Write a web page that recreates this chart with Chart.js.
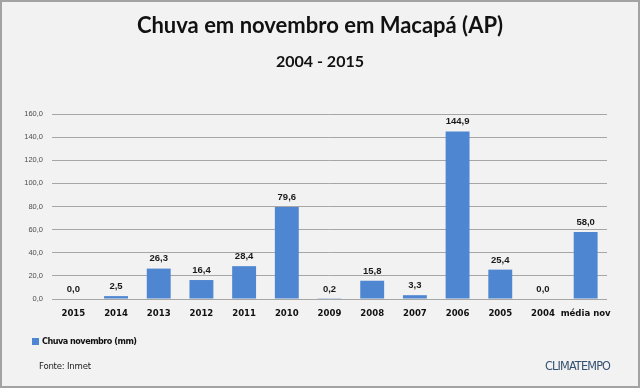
<!DOCTYPE html>
<html>
<head>
<meta charset="utf-8">
<script src="https://cdn.jsdelivr.net/npm/chart.js@4"></script>
<style>
  html, body { margin: 0; padding: 0; background: #f2f2f2; }
  #wrap { position: relative; width: 640px; height: 388px; overflow: hidden; }
  #wrap canvas { position: absolute; left: 0; top: 0; }
  .frame { position: absolute; left: 0; top: 0; width: 640px; height: 388px; box-sizing: border-box; border: 2px solid #a3a3a3; pointer-events: none; }
  .txt { position: absolute; white-space: nowrap; }
  #title { left: 0; width: 640px; top: 11px; text-align: center; font: bold 22px "Lato", sans-serif; color: #111; }
  #subtitle { left: 0; width: 640px; top: 51px; text-align: center; font: bold 16px "Lato", sans-serif; color: #111; }
  #legend { left: 32px; top: 336px; font: bold 9px "DejaVu Sans Condensed", sans-serif; color: #111; letter-spacing: -0.5px; }
  #legend span.box { display: inline-block; width: 7px; height: 7px; background: #4f86d1; margin-right: 3px; vertical-align: -1px; }
  #fonte { left: 39px; top: 360px; font: 9.5px "DejaVu Sans Condensed", sans-serif; color: #222; letter-spacing: -0.2px; }
  #brand { left: 545px; top: 358px; font: 12.5px "DejaVu Sans Condensed", sans-serif; color: #34506f; letter-spacing: -0.8px; }
</style>
</head>
<body>
<div id="wrap">
  <canvas id="chuvaChart" width="640" height="388"></canvas>
  <div class="txt" id="title">Chuva em novembro em Macapá (AP)</div>
  <div class="txt" id="subtitle">2004 - 2015</div>
  <div class="txt" id="legend"><span class="box"></span>Chuva novembro (mm)</div>
  <div class="txt" id="fonte">Fonte: Inmet</div>
  <div class="txt" id="brand">CLIMATEMPO</div>
  <div class="frame"></div>
</div>
<script>
const categorias = ['2015', '2014', '2013', '2012', '2011', '2010', '2009', '2008', '2007', '2006', '2005', '2004', 'média nov'];
const chuvaNovembro = [0.0, 2.5, 26.3, 16.4, 28.4, 79.6, 0.2, 15.8, 3.3, 144.9, 25.4, 0.0, 58.0];
const yTicks = [0, 20, 40, 60, 80, 100, 120, 140, 160];

const fmt = v => v.toFixed(1).replace('.', ',');

// rótulos de valor acima das barras
const valueLabels = {
    id: 'valueLabels',
    afterDatasetsDraw(chart) {
        const ctx = chart.ctx;
        const meta = chart.getDatasetMeta(0);
        ctx.save();
        ctx.font = 'bold 9.5px "Liberation Sans", Arial, sans-serif';
        ctx.fillStyle = '#1a1a1a';
        ctx.textAlign = 'center';
        ctx.textBaseline = 'bottom';
        meta.data.forEach((bar, i) => {
            ctx.fillText(fmt(chuvaNovembro[i]), bar.x, bar.y - 5);
        });
        ctx.restore();
    }
};

new Chart(document.getElementById('chuvaChart').getContext('2d'), {
    type: 'bar',
    data: {
        labels: categorias,
        datasets: [{
            label: 'Chuva novembro (mm)',
            data: chuvaNovembro,
            backgroundColor: '#4f86d1',
            barPercentage: 0.56,
            categoryPercentage: 1.0
        }]
    },
    options: {
        responsive: false,
        animation: false,
        layout: { padding: { left: 0, right: 33, top: 114, bottom: 69 } },
        plugins: {
            legend: { display: false },
            tooltip: { enabled: false }
        },
        scales: {
            x: {
                grid: { display: false, drawTicks: false },
                border: { display: false },
                ticks: {
                    color: '#111',
                    font: { family: '"DejaVu Sans Condensed", sans-serif', size: 9.5, weight: 'bold' },
                    padding: 9,
                    maxRotation: 0,
                    autoSkip: false
                },
                afterFit: s => { s.height = 20; }
            },
            y: {
                min: 0,
                max: 160,
                afterBuildTicks: s => { s.ticks = yTicks.map(v => ({ value: v })); },
                grid: { color: '#a6a6a6', lineWidth: 1, drawTicks: false },
                border: { display: false },
                ticks: {
                    color: '#4d4d4d',
                    font: { family: '"Liberation Sans", Arial, sans-serif', size: 7.5 },
                    padding: 9,
                    callback: v => fmt(v)
                },
                afterFit: s => { s.width = 52; }
            }
        }
    },
    plugins: [valueLabels]
});
</script>
</body>
</html>
